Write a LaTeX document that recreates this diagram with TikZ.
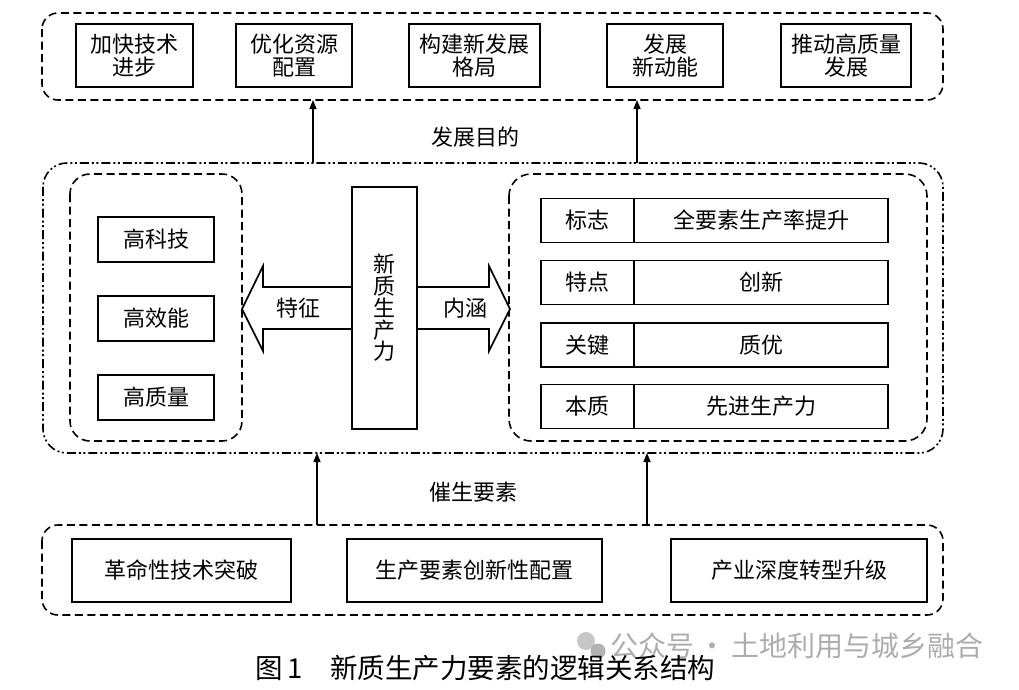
\documentclass[tikz,border=0pt]{standalone}
\usepackage{fontspec}
\setmainfont{Noto Sans CJK SC}
\usetikzlibrary{arrows.meta}
\begin{document}
\begin{tikzpicture}[x=1pt,y=-1pt,
  box/.style={draw,line width=1.7pt,fill=white,inner sep=0pt,align=center,font=\fontsize{22}{22.5}\selectfont},
  grp/.style={draw,line width=1.6pt,dash pattern=on 8pt off 4.5pt,rounded corners=16pt},
  outergrp/.style={draw,line width=1.6pt,dash pattern=on 9pt off 3pt on 2pt off 2.5pt on 2pt off 3pt,rounded corners=24pt},
  arr/.style={line width=1.4pt,-{Triangle[length=9pt,width=7pt]}},
  fat/.style={draw,line width=1.7pt,fill=white,line join=miter},
  lbl/.style={font=\fontsize{22}{22}\selectfont}]
\useasboundingbox (0,0) rectangle (1019,689);
\fill[white] (0,0) rectangle (1019,689);
% top group
\draw[grp] (42,13) rectangle (943,100);
\node[box,minimum width=117pt,minimum height=63pt] (t1) at (134.5,55.5) {加快技术\\进步};
\node[box,minimum width=116pt,minimum height=63pt] (t2) at (294,55.5) {优化资源\\配置};
\node[box,minimum width=131pt,minimum height=63pt] (t3) at (474.5,55.5) {构建新发展\\格局};
\node[box,minimum width=116pt,minimum height=63pt] (t4) at (665,55.5) {发展\\新动能};
\node[box,minimum width=130pt,minimum height=63pt] (t5) at (846,55.5) {推动高质量\\发展};
% middle group
\draw[outergrp] (43,163) rectangle (943,453);
\draw[grp,rounded corners=20pt] (70,174) rectangle (242,441);
\draw[grp,rounded corners=22pt] (509,174) rectangle (927,441);
\node[box,minimum width=116pt,minimum height=45pt] (l1) at (156,239.5) {高科技};
\node[box,minimum width=116pt,minimum height=45pt] (l2) at (156,318.5) {高效能};
\node[box,minimum width=116pt,minimum height=45pt] (l3) at (156,397.5) {高质量};
% fat arrows
\draw[fat] (352,287) -- (263,287) -- (263,266) -- (242,309) -- (263,351) -- (263,329) -- (352,329);
\draw[fat] (417,287) -- (489,287) -- (489,266) -- (510,309) -- (489,351) -- (489,329) -- (417,329);
\node[box,minimum width=65pt,minimum height=242pt,font=\fontsize{22}{21.8}\selectfont] (c) at (384.5,308) {新\\质\\生\\产\\力};
\node[lbl] (tz) at (298,308) {特征};
\node[lbl] (nh) at (465,308) {内涵};
% right rows
\node[box,minimum width=93pt,minimum height=44pt] (r1a) at (587.5,220.5) {标志};
\node[box,minimum width=254pt,minimum height=44pt] (r1b) at (761,220.5) {全要素生产率提升};
\node[box,minimum width=93pt,minimum height=44pt] (r2a) at (587.5,282.5) {特点};
\node[box,minimum width=254pt,minimum height=44pt] (r2b) at (761,282.5) {创新};
\node[box,minimum width=93pt,minimum height=44pt] (r3a) at (587.5,345) {关键};
\node[box,minimum width=254pt,minimum height=44pt] (r3b) at (761,345) {质优};
\node[box,minimum width=93pt,minimum height=44pt] (r4a) at (587.5,406.5) {本质};
\node[box,minimum width=254pt,minimum height=44pt] (r4b) at (761,406.5) {先进生产力};
% bottom group
\draw[grp] (42,525) rectangle (943,615);
\node[box,minimum width=219pt,minimum height=63pt] (b1) at (181.5,570.5) {革命性技术突破};
\node[box,minimum width=255pt,minimum height=63pt] (b2) at (474.5,570.5) {生产要素创新性配置};
\node[box,minimum width=256pt,minimum height=63pt] (b3) at (799,570.5) {产业深度转型升级};
% connectors
\coordinate (ua1) at (313,163); \coordinate (ub1) at (313,100);
\coordinate (ua2) at (637,163); \coordinate (ub2) at (637,100);
\coordinate (da1) at (317,525); \coordinate (db1) at (317,453);
\coordinate (da2) at (647,525); \coordinate (db2) at (647,453);
\draw[arr] (ua1) -- (ub1);
\draw[arr] (ua2) -- (ub2);
\draw[arr] (da1) -- (db1);
\draw[arr] (da2) -- (db2);
\node[lbl] (goal) at (475,137) {发展目的};
\node[lbl] (cat) at (473,492) {催生要素};
% watermark
\fill[black!22] (586,641) circle (9pt);
\fill[black!30] (598,651) circle (7.5pt);
\node[anchor=west,text=black!32,font=\fontsize{28}{30}\selectfont,inner sep=0pt] (wm) at (610,646) {公众号\,·\,土地利用与城乡融合};
% caption
\node[anchor=west,font=\fontsize{27.5}{29}\selectfont,inner sep=0pt] (cap) at (255,668) {图\,1\hspace{1em}新质生产力要素的逻辑关系结构};
\end{tikzpicture}
\end{document}
